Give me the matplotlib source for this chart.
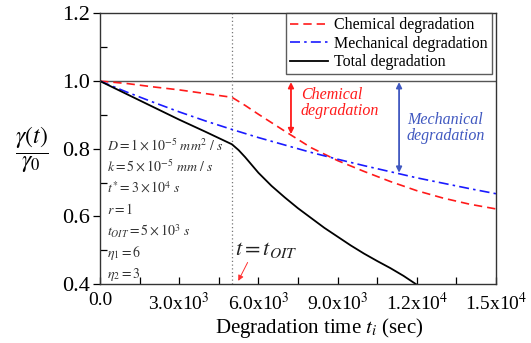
import matplotlib
matplotlib.use("Agg")
import matplotlib.pyplot as plt
from matplotlib.ticker import MultipleLocator, FixedLocator

plt.rcParams['font.family'] = ['Liberation Serif', 'DejaVu Serif']
plt.rcParams['mathtext.fontset'] = 'stix'

# values
t_chem = [0, 1000, 2000, 3000, 4000, 5000, 5500, 6000, 7000, 8000, 9000,
          10000, 11000, 12000, 13000, 14000, 15000]
chem = [1.0, 0.993, 0.983, 0.974, 0.963, 0.952, 0.928, 0.902, 0.852, 0.803,
        0.765, 0.733, 0.703, 0.676, 0.654, 0.636, 0.622]

t_mech = [0, 1000, 2000, 3000, 4000, 5000, 6000, 7000, 8000, 9000, 10000,
          11000, 12000, 13000, 14000, 15000]
mech = [1.0, 0.968, 0.938, 0.909, 0.882, 0.857, 0.833, 0.811, 0.789, 0.769,
        0.750, 0.732, 0.714, 0.698, 0.682, 0.667]

t_total = [0, 1000, 2000, 3000, 4000, 5000, 5250, 5500, 5750, 6000, 6500,
           7000, 7500, 8000, 8500, 9000, 9500, 10000, 10500, 11000, 11500,
           12000]
total = [1.0, 0.962, 0.924, 0.886, 0.850, 0.813, 0.796, 0.775, 0.752, 0.729,
         0.690, 0.656, 0.624, 0.595, 0.566, 0.540, 0.514, 0.490, 0.468,
         0.447, 0.424, 0.398]

t_oit = 5000
params = [r'$D=1\times10^{-5}\ mm^2\ /\ s$',
          r'$k=5\times10^{-5}\ mm\ /\ s$',
          r'$t^{*}=3\times10^{4}\ s$',
          r'$r=1$',
          r'$t_{OIT}=5\times10^{3}\ s$',
          r'$\eta_1=6$',
          r'$\eta_2=3$']
xticks = [0, 3000, 6000, 9000, 12000, 15000]
xticklabels = ['0.0', r'3.0x10$^{3}$', r'6.0x10$^{3}$', r'9.0x10$^{3}$',
               r'1.2x10$^{4}$', r'1.5x10$^{4}$']

fig = plt.figure(figsize=(5.31, 3.43), dpi=100)
ax = fig.add_axes([0.1883, 0.172, 0.7457, 0.7888])

ax.axhline(1.0, color='#555555', lw=1.0, zorder=1)
ax.axvline(t_oit, color='#777777', lw=0.9, ls=(0, (1, 2)), zorder=1)

ax.plot(t_chem, chem, color='#ff1a1a', lw=1.2, ls=(0, (5, 3)),
        label='Chemical degradation')
ax.plot(t_mech, mech, color='#1a1aff', lw=1.2, ls=(0, (6, 2.5, 1.5, 2.5)),
        label='Mechanical degradation')
ax.plot(t_total, total, color='black', lw=1.3, label='Total degradation')

ax.set_xlim(0, 15000)
ax.set_ylim(0.4, 1.2)

ax.xaxis.set_major_locator(FixedLocator(xticks))
ax.set_xticklabels(xticklabels)
ax.xaxis.set_minor_locator(MultipleLocator(1500))
ax.yaxis.set_minor_locator(MultipleLocator(0.1))
ax.set_yticks([0.4, 0.6, 0.8, 1.0, 1.2])
ax.set_yticklabels(['0.4', '0.6', '0.8', '1.0', '1.2'])

ax.tick_params(axis='x', which='both', direction='in', length=5, width=0.9,
               labelsize=14, pad=6, top=False)
ax.tick_params(axis='y', which='major', direction='out', length=5, width=0.9,
               labelsize=16, pad=2, right=False)
ax.tick_params(axis='y', which='minor', direction='in', length=5, width=0.9,
               right=False)
for s in ax.spines.values():
    s.set_linewidth(1.0)
    s.set_color('#333333')

ax.set_xlabel(r'Degradation time $t_i$ (sec)', fontsize=15)
ax.xaxis.set_label_coords(0.553, -0.118)
ax.text(-0.172, 0.495, r'$\dfrac{\gamma(t)}{\gamma_0}$', fontsize=17,
        transform=ax.transAxes, ha='center', va='center')

leg = ax.legend(loc='upper right', bbox_to_anchor=(0.99, 1.0), fontsize=11.5,
                frameon=True, fancybox=False, handlelength=2.4,
                borderpad=0.25, labelspacing=0.15, handletextpad=0.4,
                borderaxespad=0.0)
leg.get_frame().set_edgecolor('#333333')
leg.get_frame().set_linewidth(1.0)

# parameter block
y0 = 0.811
for i, p in enumerate(params):
    ax.text(250, y0 - i * 0.064, p, fontsize=10, color='#333333',
            ha='left', va='center')

# t = t_OIT marker
ax.text(5100, 0.5, r'$t=t_{OIT}$', fontsize=16, color='#222222',
        ha='left', va='center')
ax.annotate('', xy=(5190, 0.402), xytext=(5640, 0.471),
            arrowprops=dict(arrowstyle='-|>', color='#ff3030', lw=0.7,
                            mutation_scale=8))

# chemical degradation arrow
ax.annotate('', xy=(7235, 0.843), xytext=(7235, 0.997),
            arrowprops=dict(arrowstyle='<|-|>', color='#ff1a1a', lw=1.3,
                            mutation_scale=8, shrinkA=0, shrinkB=0))
ax.text(7600, 0.934, 'Chemical\ndegradation', fontsize=11.5, style='italic',
        color='#ff1a1a', ha='left', va='center', linespacing=1.0)

# mechanical degradation arrow
ax.annotate('', xy=(11330, 0.729), xytext=(11330, 0.997),
            arrowprops=dict(arrowstyle='<|-|>', color='#4058c0', lw=1.3,
                            mutation_scale=8, shrinkA=0, shrinkB=0))
ax.text(11620, 0.86, 'Mechanical\ndegradation', fontsize=11.5, style='italic',
        color='#4058c0', ha='left', va='center', linespacing=1.0)

fig.savefig('out.png', dpi=100)
